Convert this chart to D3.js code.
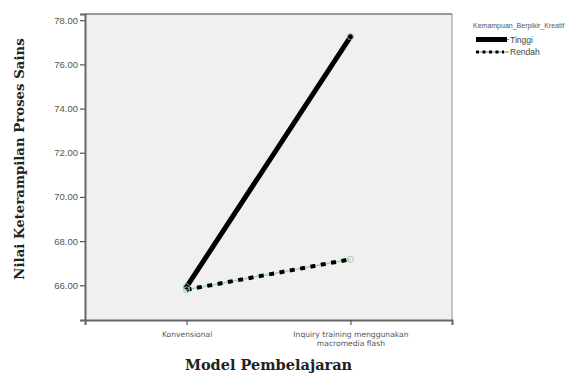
<!DOCTYPE html>
<html>
<head>
<meta charset="utf-8">
<script src="https://cdn.jsdelivr.net/npm/d3@7"></script>
<style>
  body { margin: 0; background: #fff; }
  svg { display: block; }
</style>
</head>
<body>
<svg id="chart" width="567" height="373"></svg>
<script>
'use strict';

// categories on the x axis (second label wraps onto two lines)
var categories = ['Konvensional', 'Inquiry training menggunakan macromedia flash'];
var categoryLines = [['Konvensional'], ['Inquiry training menggunakan', 'macromedia flash']];

// estimated marginal means per group
var groups = ['Tinggi', 'Rendah'];
var tinggiValues = [65.93, 77.25];
var rendahValues = [65.80, 67.18];

var yTicks = [66, 68, 70, 72, 74, 76, 78];

var svg = d3.select('#chart');

var plot = { left: 85, top: 14, right: 452, bottom: 320 };

var x = d3.scalePoint()
    .domain(categories)
    .range([plot.left, plot.right])
    .padding(0.62);

var y = d3.scaleLinear()
    .domain([64.43, 78.28])
    .range([plot.bottom, plot.top]);

//plot background + frame
svg.append('rect')
    .attr('x', plot.left).attr('y', plot.top)
    .attr('width', plot.right - plot.left)
    .attr('height', plot.bottom - plot.top)
    .attr('fill', '#f0f0f0')
    .attr('stroke', 'none');

svg.append('line')
    .attr('x1', plot.right).attr('x2', plot.right)
    .attr('y1', plot.top).attr('y2', plot.bottom)
    .attr('stroke', '#b4b4b4').attr('stroke-width', 1.5);
svg.append('line')
    .attr('x1', plot.left).attr('x2', plot.right)
    .attr('y1', plot.top).attr('y2', plot.top)
    .attr('stroke', '#7a7a7a').attr('stroke-width', 1.5);

//y axis
var yAxis = d3.axisLeft(y)
    .tickValues(yTicks)
    .tickSize(5)
    .tickPadding(2)
    .tickFormat(d3.format('.2f'));

var gy = svg.append('g')
    .attr('transform', 'translate(' + plot.left + ',0)')
    .call(yAxis);
gy.select('.domain').attr('stroke', '#666').attr('stroke-width', 2);
gy.selectAll('.tick line').attr('stroke', '#555').attr('stroke-width', 1.2);
gy.selectAll('.tick text')
    .attr('fill', '#555')
    .style('font-family', '"Liberation Sans", Arial, sans-serif')
    .style('font-size', '9.5px');

//x axis
var xAxis = d3.axisBottom(x).tickSize(5).tickFormat('');
var gx = svg.append('g')
    .attr('transform', 'translate(0,' + plot.bottom + ')')
    .call(xAxis);
gx.select('.domain').attr('stroke', '#666').attr('stroke-width', 2);
gx.selectAll('.tick line').attr('stroke', '#555').attr('stroke-width', 1.2);

gx.selectAll('.tick')
    .append('text')
    .attr('fill', '#555')
    .attr('text-anchor', 'middle')
    .style('font-family', '"DejaVu Sans", sans-serif')
    .style('font-size', '7.6px')
    .each(function (d, i) {
        var t = d3.select(this);
        categoryLines[i].forEach(function (line, j) {
            t.append('tspan')
                .attr('x', 0)
                .attr('y', 17 + j * 8.5)
                .text(line);
        });
    });

//axis titles
svg.append('text')
    .attr('x', (plot.left + plot.right) / 2)
    .attr('y', 370)
    .attr('text-anchor', 'middle')
    .attr('fill', '#222')
    .style('font-family', '"DejaVu Serif", serif')
    .style('font-weight', 'bold')
    .style('font-size', '14.5px')
    .text('Model Pembelajaran');

svg.append('text')
    .attr('transform', 'translate(24,' + 159 + ') rotate(-90)')
    .attr('text-anchor', 'middle')
    .attr('fill', '#222')
    .style('font-family', '"DejaVu Serif", serif')
    .style('font-weight', 'bold')
    .style('font-size', '13.3px')
    .text('Nilai Keterampilan Proses Sains');

//lines
var line = d3.line()
    .x(function (d, i) { return x(categories[i]); })
    .y(function (d) { return y(d); });

svg.append('path')
    .datum(rendahValues)
    .attr('d', line)
    .attr('fill', 'none')
    .attr('stroke', '#9fd8a4')
    .attr('stroke-width', 1.5);

svg.append('path')
    .datum(rendahValues)
    .attr('d', line)
    .attr('fill', 'none')
    .attr('stroke', '#000')
    .attr('stroke-width', 4)
    .attr('stroke-dasharray', '5,5.5');

svg.append('path')
    .datum(tinggiValues)
    .attr('d', line)
    .attr('fill', 'none')
    .attr('stroke', '#000')
    .attr('stroke-width', 5)
    .attr('stroke-linecap', 'round');

//markers
var markerColors = { Tinggi: '#6a9ac4', Rendah: '#8fd395' };
[tinggiValues, rendahValues].forEach(function (vals, k) {
    svg.append('g').selectAll('circle')
        .data(vals)
      .enter().append('circle')
        .attr('cx', function (d, i) { return x(categories[i]); })
        .attr('cy', function (d) { return y(d); })
        .attr('r', 3)
        .attr('fill', 'none')
        .attr('stroke', markerColors[groups[k]])
        .attr('stroke-width', 1);
});

//legend
var legend = svg.append('g').attr('transform', 'translate(473,0)');
legend.append('text')
    .attr('x', 0).attr('y', 27.5)
    .attr('fill', '#555')
    .style('font-family', '"Liberation Sans", Arial, sans-serif')
    .style('font-size', '7px')
    .text('Kemampuan_Berpikir_Kreatif');

var legendRows = legend.selectAll('.row')
    .data(groups)
  .enter().append('g')
    .attr('class', 'row')
    .attr('transform', function (d, i) { return 'translate(0,' + (39.5 + i * 12.5) + ')'; });

legendRows.append('line')
    .attr('x1', 3).attr('x2', 36)
    .attr('y1', 0).attr('y2', 0)
    .attr('stroke', '#666')
    .attr('stroke-width', 0.8);

legendRows.append('line')
    .attr('x1', 3).attr('x2', function (d) { return d === 'Tinggi' ? 34 : 31; })
    .attr('y1', 0).attr('y2', 0)
    .attr('stroke', '#000')
    .attr('stroke-width', function (d) { return d === 'Tinggi' ? 5 : 3; })
    .attr('stroke-dasharray', function (d) { return d === 'Tinggi' ? null : '3,3.5'; });

legendRows.append('text')
    .attr('x', 37).attr('y', 3)
    .attr('fill', '#444')
    .style('font-family', '"Liberation Sans", Arial, sans-serif')
    .style('font-size', '8.5px')
    .text(function (d) { return d; });
</script>
</body>
</html>
